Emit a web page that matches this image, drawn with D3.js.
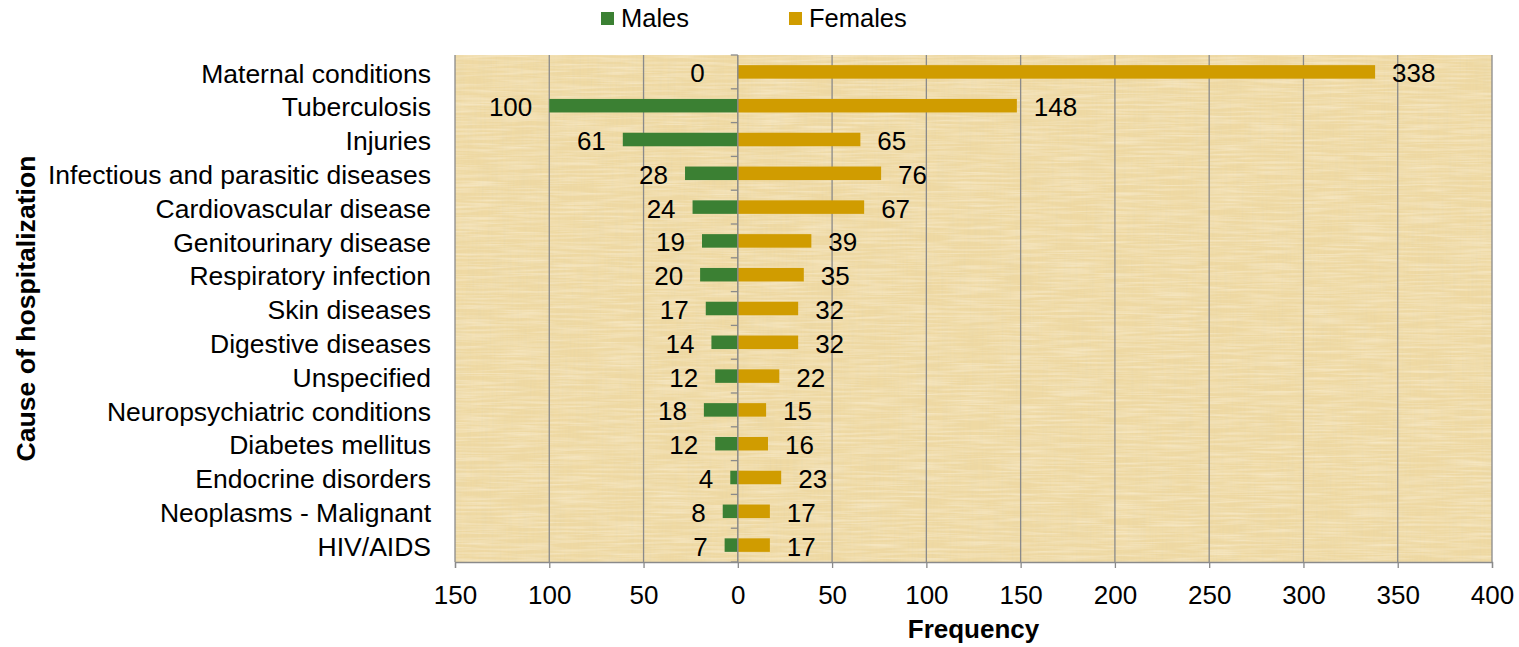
<!DOCTYPE html>
<html><head><meta charset="utf-8">
<script src="https://cdn.jsdelivr.net/npm/d3@7/dist/d3.min.js"></script>
<style>html,body{margin:0;padding:0;background:#fff;}svg{display:block;font-family:"Liberation Sans",Arial,sans-serif;}</style>
</head><body>
<svg id="chart" width="1519" height="647"></svg>
<script>
const categories = ["Maternal conditions","Tuberculosis","Injuries","Infectious and parasitic diseases","Cardiovascular disease","Genitourinary disease","Respiratory infection","Skin diseases","Digestive diseases","Unspecified","Neuropsychiatric conditions","Diabetes mellitus","Endocrine disorders","Neoplasms - Malignant","HIV/AIDS"];
const males   = [0,100,61,28,24,19,20,17,14,12,18,12,4,8,7];
const females = [338,148,65,76,67,39,35,32,32,22,15,16,23,17,17];
const xTicks = [-150,-100,-50,0,50,100,150,200,250,300,350,400];
const seriesNames = ["Males","Females"];
const colors = {Males:"#3b8033", Females:"#d09c00"};

const svg = d3.select("#chart");
const m = {left:455, right:1492, top:55, bottom:562};
const x = d3.scaleLinear().domain([-150,400]).range([m.left, m.right]);
const y = d3.scaleBand().domain(categories).range([m.top, m.bottom]).paddingInner(0.6).paddingOuter(0.3);
const fs = 26;

// papyrus-like background
const defs = svg.append("defs");
const f = defs.append("filter").attr("id","pap").attr("x",0).attr("y",0).attr("width","100%").attr("height","100%");
f.append("feTurbulence").attr("type","fractalNoise").attr("baseFrequency","0.5 0.02").attr("numOctaves",3).attr("seed",3).attr("result","v");
f.append("feColorMatrix").attr("in","v").attr("type","matrix")
 .attr("values","0 0 0 0 0.78  0 0 0 0 0.66  0 0 0 0 0.38  0 0 0 -0.8 0.5").attr("result","vc");
f.append("feTurbulence").attr("type","fractalNoise").attr("baseFrequency","0.02 0.45").attr("numOctaves",3).attr("seed",7).attr("result","h");
f.append("feColorMatrix").attr("in","h").attr("type","matrix")
 .attr("values","0 0 0 0 1.0  0 0 0 0 0.93  0 0 0 0 0.76  0 0 0 -0.8 0.5").attr("result","hc");
f.append("feMerge").selectAll("feMergeNode").data(["SourceGraphic","vc","hc"]).join("feMergeNode").attr("in",d=>d);

svg.append("rect").attr("x",m.left).attr("y",m.top).attr("width",m.right-m.left).attr("height",m.bottom-m.top)
  .attr("fill","#efd9a3").attr("filter","url(#pap)");

// gridlines
svg.append("g").selectAll("line").data(xTicks.filter(d=>d!==0)).join("line")
  .attr("x1",d=>x(d)).attr("x2",d=>x(d)).attr("y1",m.top).attr("y2",m.bottom)
  .attr("stroke","#8a8a8a").attr("stroke-width",1.3);

// bottom axis
const xAxis = d3.axisBottom(x).tickValues(xTicks).tickFormat(d=>Math.abs(d)).tickSize(6).tickPadding(18);
const gx = svg.append("g").attr("transform",`translate(0,${m.bottom})`).call(xAxis);
gx.select(".domain").attr("stroke","#8a8a8a").attr("stroke-width",1.3);
gx.selectAll(".tick line").attr("stroke","#8a8a8a").attr("stroke-width",1.3);
gx.selectAll(".tick text").attr("font-size",fs).attr("fill","#000").attr("font-family","Liberation Sans, Arial, sans-serif");

// bars
const rows = categories.map((c,i)=>({c, m:males[i], f:females[i]}));
svg.append("g").selectAll("rect").data(rows).join("rect")
  .attr("x",d=>x(-d.m)).attr("width",d=>x(0)-x(-d.m))
  .attr("y",d=>y(d.c)).attr("height",y.bandwidth()).attr("fill",colors.Males);
svg.append("g").selectAll("rect").data(rows).join("rect")
  .attr("x",x(0)).attr("width",d=>x(d.f)-x(0))
  .attr("y",d=>y(d.c)).attr("height",y.bandwidth()).attr("fill",colors.Females);

// zero axis with ticks at band boundaries
const bounds = d3.range(categories.length+1).map(i=>m.top + i*(m.bottom-m.top)/categories.length);
svg.append("line").attr("x1",x(0)).attr("x2",x(0)).attr("y1",m.top).attr("y2",m.bottom).attr("stroke","#8a8a8a").attr("stroke-width",1.5);
svg.append("g").selectAll("line").data(bounds).join("line")
  .attr("x1",x(0)-7).attr("x2",x(0)).attr("y1",d=>d).attr("y2",d=>d).attr("stroke","#8a8a8a").attr("stroke-width",1.3);

// category labels
svg.append("g").selectAll("text").data(categories).join("text")
  .attr("x",m.left-24).attr("y",d=>y(d)+y.bandwidth()/2).attr("dy","0.4em")
  .attr("text-anchor","end").attr("font-size",26.5).attr("fill","#000").text(d=>d);

// value labels
svg.append("g").selectAll("text").data(rows).join("text")
  .attr("x",d=>x(-d.m) - (d.m===0?33:17)).attr("y",d=>y(d.c)+y.bandwidth()/2).attr("dy","0.4em")
  .attr("text-anchor","end").attr("font-size",fs).attr("fill","#000").text(d=>d.m);
svg.append("g").selectAll("text").data(rows).join("text")
  .attr("x",d=>x(d.f)+17).attr("y",d=>y(d.c)+y.bandwidth()/2).attr("dy","0.4em")
  .attr("text-anchor","start").attr("font-size",fs).attr("fill","#000").text(d=>d.f);

// axis titles
svg.append("text").attr("x",(m.left+m.right)/2).attr("y",638).attr("text-anchor","middle")
  .attr("font-size",fs).attr("font-weight","bold").text("Frequency");
svg.append("text").attr("transform",`translate(35,${(m.top+m.bottom)/2}) rotate(-90)`).attr("text-anchor","middle")
  .attr("font-size",26.6).attr("font-weight","bold").text("Cause of hospitalization");

// legend
const legX = [601, 789];
const lg = svg.append("g");
seriesNames.forEach((s,i)=>{
  lg.append("rect").attr("x",legX[i]).attr("y",12).attr("width",13).attr("height",13).attr("fill",colors[s]);
  lg.append("text").attr("x",legX[i]+20).attr("y",27).attr("font-size",25.5).attr("fill","#000").text(s);
});
</script>
</body></html>
